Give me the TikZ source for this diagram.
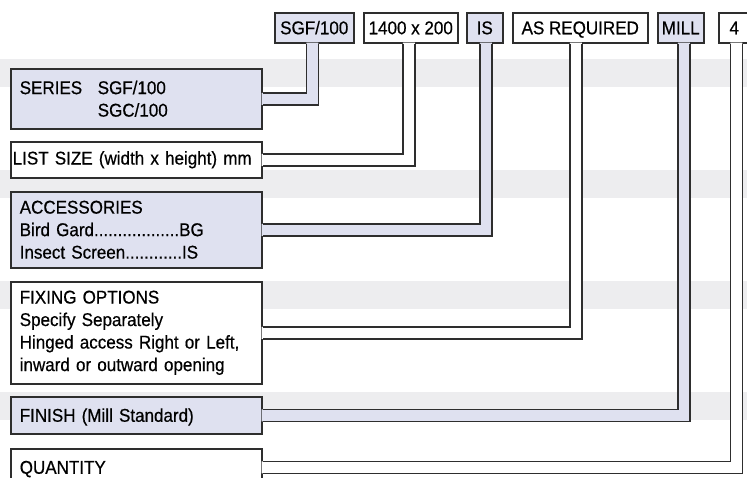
\documentclass[tikz,border=0pt]{standalone}
\usepackage{fontspec}
\setmainfont{Liberation Sans}[FakeStretch=0.92,FakeBold=0.5]
\usetikzlibrary{calc}
\definecolor{lav}{RGB}{223,225,240}
\definecolor{stripe}{RGB}{237,237,239}
\begin{document}
\begin{tikzpicture}[x=1pt,y=-1pt]
    \tikzset{
      wire/.style={draw=black!82,line width=1.5pt},
      tag/.style={wire,anchor=north west,minimum height=30pt,inner sep=0pt,
        text height=16pt,text depth=3pt,
        font=\fontsize{18.5pt}{22.5pt}\selectfont},
      field/.style={wire,anchor=north west,minimum width=251pt,text width=233pt,
        inner xsep=9pt,inner ysep=0pt,align=left,
        font=\fontsize{18.5pt}{22.5pt}\selectfont},
    }
    \useasboundingbox (0,0) rectangle (747,477);
    \clip (0,0) rectangle (747,477);
    % grey bands
    \foreach \y in {59,170,281,392}
      \fill[stripe] (0,\y) rectangle (747,\y+28);
    %
    \node[tag,fill=lav,minimum width=79pt] (sgfTag) at (274,12) {SGF/100};
    \node[tag,fill=white,minimum width=94pt] (sizeTag) at (363,12) {1400 x 200};
    \node[tag,fill=lav,minimum width=36pt] (isTag) at (466,12) {IS};
    \node[tag,fill=white,minimum width=135pt] (reqTag) at (512,12) {AS REQUIRED};
    \node[tag,fill=lav,minimum width=46pt] (millTag) at (657,12) {MILL};
    \node[tag,fill=white,minimum width=31pt] (qtyTag) at (718,12) {4};
    %
    \node[field,fill=lav,minimum height=60pt] (series) at (10,68)
      {\makebox[78pt][l]{SERIES}SGF/100\\\hspace*{78pt}SGC/100};
    \node[field,fill=white,minimum height=36pt,inner xsep=2pt,text width=247pt] (listsize) at (10,141)
      {LIST SIZE (width x height) mm};
    \node[field,fill=lav,minimum height=76pt] (accessories) at (10,191)
      {ACCESSORIES\\Bird Gard..................BG\\Insect Screen............IS};
    \node[field,fill=white,minimum height=102pt] (fixing) at (10,281)
      {FIXING OPTIONS\\Specify Separately\\Hinged access Right or Left,\\inward or outward opening};
    \node[field,fill=lav,minimum height=37pt,text height=14pt,text depth=1pt] (finish) at (10,396)
      {FINISH (Mill Standard)};
    \node[field,fill=white,minimum height=37pt,text height=14pt,text depth=1pt] (quantity) at (10,448)
      {QUANTITY};
    %
    \foreach \t/\l/\dx/\c in {sgfTag/series/-2/lav, sizeTag/listsize/-2/white,
        isTag/accessories/1/lav, reqTag/fixing/-4.5/white,
        millTag/finish/3/lav, qtyTag/quantity/2/white} {
      \fill[\c] let \p1=($(\t.south)+(\dx,0)$), \p2=(\l.east) in
        (\x1-6pt,\y1+1pt) -- (\x1+6pt,\y1+1pt) -- (\x1+6pt,\y2-6pt)
        -- (\x2-1pt,\y2-6pt) -- (\x2-1pt,\y2+6pt) -- (\x1-6pt,\y2+6pt) -- cycle;
      \draw[wire] let \p1=($(\t.south)+(\dx,0)$), \p2=(\l.east) in
        (\x1-6pt,\y1) -- (\x1-6pt,\y2+6pt) -- (\x2,\y2+6pt)
        (\x1+6pt,\y1) -- (\x1+6pt,\y2-6pt) -- (\x2,\y2-6pt);
    }
\end{tikzpicture}
\end{document}
